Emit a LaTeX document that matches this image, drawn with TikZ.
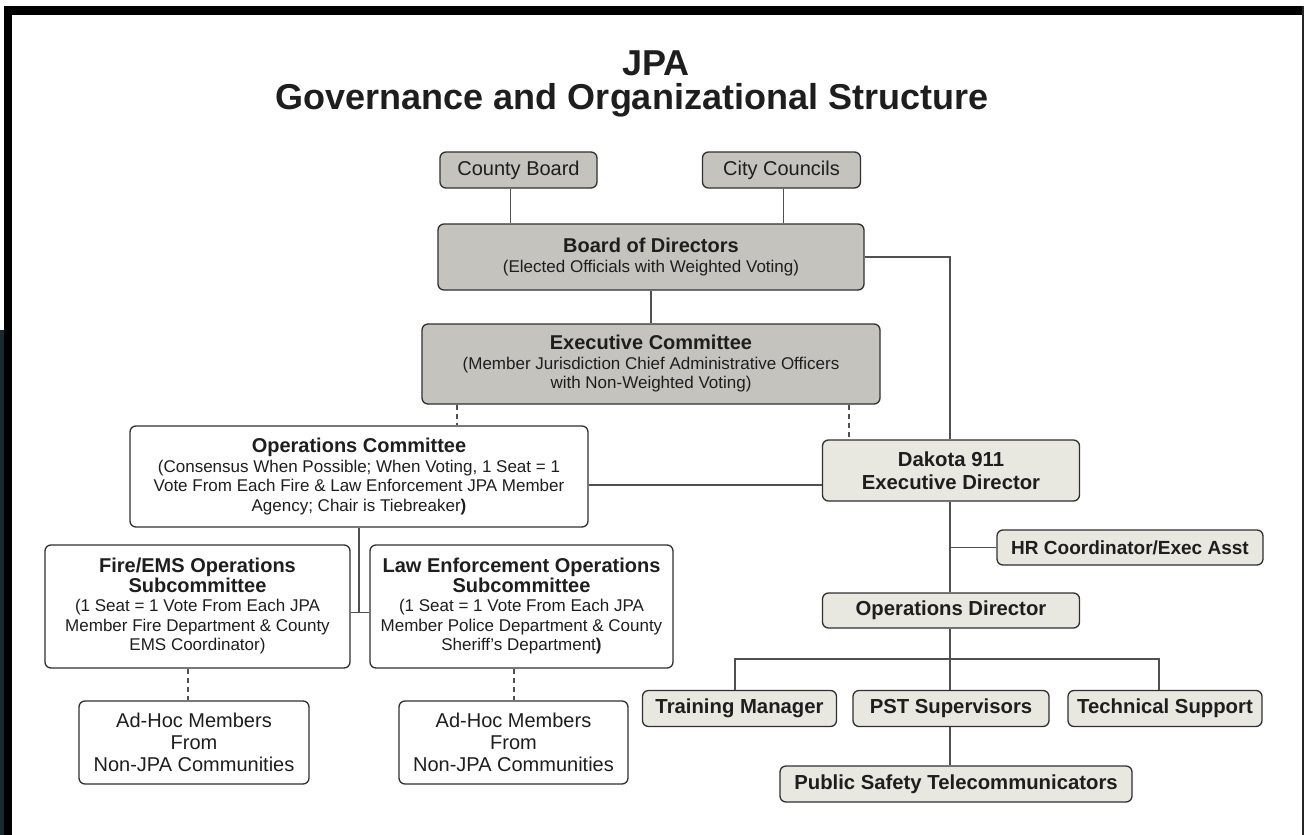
\documentclass[tikz,border=0pt]{standalone}
\usepackage{fontspec}
\setmainfont{Liberation Sans}
\definecolor{grayfill}{RGB}{196,195,189}
\definecolor{lightfill}{RGB}{232,231,224}
\definecolor{bordercol}{RGB}{48,48,48}
\definecolor{linecol}{RGB}{80,80,80}
\definecolor{textcol}{RGB}{30,30,30}
\definecolor{tealband}{RGB}{24,42,45}
\newcommand{\fsz}[2]{\fontsize{#1}{#2}\selectfont}
\newcommand{\hdr}[1]{{\fsz{20}{22}\bfseries #1}}
\begin{document}
\begin{tikzpicture}[x=1pt,y=-1pt,
  box/.style={draw=bordercol, line width=1.3pt, rounded corners=6pt, align=center,
              inner sep=0pt, text=textcol, font=\fsz{17}{19.5}},
  gbox/.style={box, fill=grayfill},
  lbox/.style={box, fill=lightfill},
  wbox/.style={box, fill=white},
  rfont/.style={font=\fsz{20.3}{22.5}\bfseries},
  conn/.style={draw=linecol, line width=1.5pt},
  dconn/.style={draw=linecol, line width=1.2pt, dash pattern=on 5pt off 4pt}]
\useasboundingbox (0,0) rectangle (1304,835);
\fill[white] (0,0) rectangle (1304,835);
% frame
\fill[black] (4,6) rectangle (1304,15);
\fill[black] (4,6) rectangle (12,835);
\fill[tealband] (0,330) rectangle (4,835);
\fill[black!85] (1301.5,6) rectangle (1304,835);

% title
\node[anchor=base, text=textcol, font=\fsz{36}{38}\bfseries] (t1) at (656,75) {JPA};
\node[anchor=base, text=textcol, font=\fsz{36}{38}\bfseries] (t2) at (632,109) {Governance and Organizational Structure};

% top boxes
\node[gbox, minimum width=157pt, minimum height=36pt, font=\fsz{20}{22}] (county) at (518.5,170) {County Board};
\node[gbox, minimum width=158pt, minimum height=36pt, font=\fsz{20}{22}] (city) at (781.5,170) {City Councils};
\node[gbox, minimum width=426pt, minimum height=66pt] (bod) at (651,257)
  {\hdr{Board of Directors}\\(Elected Officials with Weighted Voting)};
\node[gbox, minimum width=458pt, minimum height=80pt] (exec) at (651,364)
  {\hdr{Executive Committee}\\(Member Jurisdiction Chief Administrative Officers\\with Non-Weighted Voting)};

% left side
\node[wbox, minimum width=458pt, minimum height=101pt] (opc) at (359,476.5)
  {\hdr{Operations Committee}\\(Consensus When Possible; When Voting, 1 Seat = 1\\Vote From Each Fire \& Law Enforcement JPA Member\\Agency; Chair is Tiebreaker\textbf{)}};
\node[wbox, minimum width=305pt, minimum height=123pt] (fire) at (197.5,606.5)
  {\hdr{Fire/EMS Operations}\\\hdr{Subcommittee}\\(1 Seat = 1 Vote From Each JPA\\Member Fire Department \& County\\EMS Coordinator)};
\node[wbox, minimum width=303pt, minimum height=123pt] (law) at (521.5,606.5)
  {\hdr{Law Enforcement Operations}\\\hdr{Subcommittee}\\(1 Seat = 1 Vote From Each JPA\\Member Police Department \& County\\Sheriff's Department\textbf{)}};
\node[wbox, minimum width=230pt, minimum height=83pt, font=\fsz{20}{21.7}] (adhoc1) at (194,742.5)
  {Ad-Hoc Members\\From\\Non-JPA Communities};
\node[wbox, minimum width=229pt, minimum height=83pt, font=\fsz{20}{21.7}] (adhoc2) at (513.5,742.5)
  {Ad-Hoc Members\\From\\Non-JPA Communities};

% right side
\node[lbox, rfont, minimum width=257pt, minimum height=61pt] (dak) at (951,470.5)
  {Dakota 911\\Executive Director};
\node[lbox, minimum width=266pt, minimum height=35pt, font=\fsz{19}{21}\bfseries] (hr) at (1130,547.5)
  {HR Coordinator/Exec Asst};
\node[lbox, rfont, minimum width=257pt, minimum height=35pt] (opd) at (951,610.5)
  {Operations Director};
\node[lbox, rfont, minimum width=194pt, minimum height=36pt] (tm) at (739.5,708.5)
  {Training Manager};
\node[lbox, rfont, minimum width=196pt, minimum height=36pt] (pst) at (951,708.5)
  {PST Supervisors};
\node[lbox, rfont, minimum width=194pt, minimum height=36pt] (ts) at (1165,708.5)
  {Technical Support};
\node[lbox, rfont, minimum width=352pt, minimum height=36pt] (pstc) at (956,784)
  {Public Safety Telecommunicators};

% connectors
\draw[conn] ([xshift=-8pt]county.south) -- ([xshift=-8pt]county.south |- bod.north);
\draw[conn] ([xshift=2pt]city.south) -- ([xshift=2pt]city.south |- bod.north);
\draw[conn] (bod.south) -- (exec.north);
\draw[conn] (bod.east) -| ([xshift=-1pt]dak.north);
\draw[dconn] ([xshift=-194pt]exec.south) -- ([xshift=-194pt]exec.south |- opc.north);
\draw[dconn] ([xshift=198pt]exec.south) -- ([xshift=198pt]exec.south |- dak.north);
\draw[conn] ([yshift=-8.5pt]opc.east) -- ([yshift=-8.5pt]opc.east -| dak.west);
\coordinate (fl) at (opc.south |- fire.east);
\draw[conn] (opc.south) -- ([yshift=-6pt]fl);
\draw[conn] ([yshift=-6pt]fire.east) -- ([yshift=-6pt]law.west);
\draw[dconn] ([xshift=-9.5pt]fire.south) -- ([xshift=-9.5pt]fire.south |- adhoc1.north);
\draw[dconn] ([xshift=-7.5pt]law.south) -- ([xshift=-7.5pt]law.south |- adhoc2.north);
% right side connectors
\draw[conn] ([xshift=-1pt]dak.south) -- ([xshift=-1pt]dak.south |- opd.north);
\draw[conn] (hr.west) -- ([xshift=-1pt]hr.west -| dak.south);
\draw[conn] ([xshift=-1pt]opd.south) -- ([xshift=-1pt]opd.south |- pst.north);
\coordinate (busL) at (735,659);
\coordinate (busR) at (1159,659);
\draw[conn] (busL |- tm.north) -- (busL) -- (busR) -- (busR |- ts.north);
\draw[conn] ([xshift=-1pt]pst.south) -- ([xshift=-1pt]pst.south |- pstc.north);
\end{tikzpicture}
\end{document}
